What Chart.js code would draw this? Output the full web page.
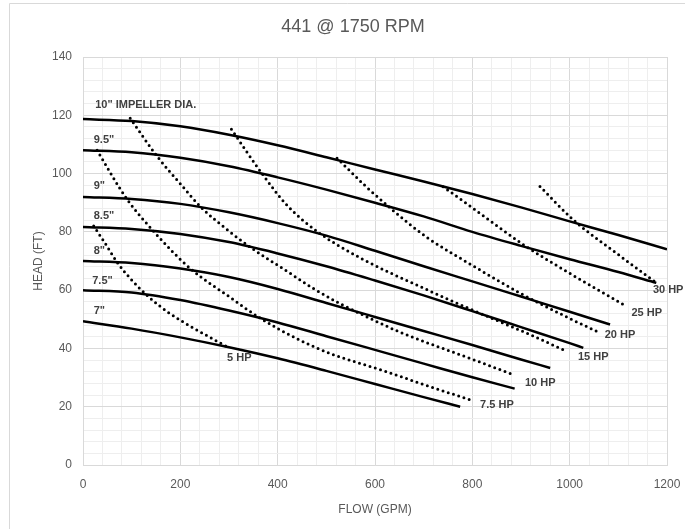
<!DOCTYPE html>
<html>
<head>
<meta charset="utf-8">
<title>441 @ 1750 RPM</title>
<script src="https://cdn.jsdelivr.net/npm/chart.js@4.4.0/dist/chart.umd.min.js"></script>
<style>
    html, body { margin: 0; padding: 0; background: #fff; }
    #wrap { position: relative; width: 685px; height: 529px; }
</style>
</head>
<body>
<div id="wrap"><canvas id="pump-chart" width="685" height="529"></canvas></div>
<script>
// impeller curves (solid): flow in GPM, head in FT
const flow10 = [0, 100, 200, 300, 400, 500, 600, 700, 800, 900, 1000, 1100, 1200];
const head10 = [118.7, 118, 116.2, 113.3, 109.7, 105.6, 101.4, 97.3, 93, 88.4, 83.6, 78.9, 74];
const flow95 = [0, 100, 200, 300, 400, 500, 600, 700, 800, 900, 1000, 1100, 1178];
const head95 = [108, 107.3, 105.4, 102.5, 98.7, 94.5, 90, 85.3, 80, 75.2, 70.6, 66.2, 62.5];
const flow9 = [0, 100, 200, 300, 400, 500, 600, 700, 800, 900, 1000, 1083];
const head9 = [92, 91.3, 89.6, 86.7, 83, 78.7, 73.5, 68.2, 63, 57.8, 52.6, 48.2];
const flow85 = [0, 100, 200, 300, 400, 500, 600, 700, 800, 900, 1000, 1028];
const head85 = [81.7, 81, 79.3, 76.5, 72.6, 68.2, 63.3, 58.2, 52.8, 47.3, 41.8, 40.2];
const flow8 = [0, 100, 200, 300, 400, 500, 600, 700, 800, 900, 960];
const head8 = [70, 69.3, 67.4, 64.5, 60.4, 55.6, 50.8, 46, 41.2, 36.2, 33.3];
const flow75 = [0, 100, 200, 300, 400, 500, 600, 700, 800, 887];
const head75 = [60, 59.2, 56.6, 53, 48.9, 44.2, 39.5, 34.8, 30.1, 26.2];
const flow7 = [0, 100, 200, 300, 400, 500, 600, 700, 775];
const head7 = [49.3, 46.8, 43.8, 40.4, 36.6, 32.3, 27.8, 23.3, 20];

// horsepower curves (dotted)
const flow5hp = [22, 45, 70, 100, 135, 175, 227, 296];
const head5hp = [82, 76.2, 69.6, 63.5, 57.7, 52.4, 47, 40.6];
const flow75hp = [29, 60, 90, 145, 220, 300, 364, 446, 514, 617, 700, 795];
const head75hp = [108, 99.2, 91.3, 80.2, 67.5, 57.8, 50.4, 42.8, 37.9, 32.4, 27.6, 22.4];
const flow10hp = [97, 152, 200, 241, 302, 345, 420, 473, 528, 590, 651, 700, 800, 887];
const head10hp = [119, 106, 96.5, 88.7, 80, 74.6, 66.4, 60.6, 55.4, 50.3, 45.6, 42.4, 36.3, 30.8];
const flow15hp = [305, 367, 420, 484, 576, 692, 800, 919, 994];
const head15hp = [115.2, 100.2, 89, 79.8, 70.5, 61.3, 53.2, 44.7, 39];
const flow20hp = [522, 580, 634, 706, 800, 898, 1000, 1055];
const head20hp = [105.3, 95.8, 87.8, 78.2, 68.5, 59, 50.3, 45.9];
const flow25hp = [740, 800, 905, 1000, 1117];
const head25hp = [95.5, 88.3, 75.6, 65.8, 54.4];
const flow30hp = [939, 1007, 1100, 1178];
const head30hp = [95.6, 84.2, 72.2, 62.5];

// text on the curves (flow/head where each label starts)
const impellerLabels = ['10" IMPELLER DIA.', '9.5"', '9"', '8.5"', '8"', '7.5"', '7"'];
const impellerLabelFlow = [25, 22, 22, 22, 22, 19, 22];
const impellerLabelHead = [123.6, 111.6, 95.6, 85.6, 73.3, 63, 52.7];
const hpLabels = ['5 HP', '7.5 HP', '10 HP', '15 HP', '20 HP', '25 HP', '30 HP'];
const hpLabelFlow = [296, 816, 908, 1017, 1072, 1127, 1171];
const hpLabelHead = [36.7, 20.7, 28.2, 37.1, 44.7, 52.2, 59.9];

const chartTitle = '441 @ 1750 RPM';

const impellerCurves = [[flow10, head10], [flow95, head95], [flow9, head9], [flow85, head85],
    [flow8, head8], [flow75, head75], [flow7, head7]];
const hpCurves = [[flow5hp, head5hp], [flow75hp, head75hp], [flow10hp, head10hp], [flow15hp, head15hp],
    [flow20hp, head20hp], [flow25hp, head25hp], [flow30hp, head30hp]];

const FONT = '"Liberation Sans", Arial, sans-serif';
const GREY = '#595959';

function toPoints(xs, ys) {
    return xs.map((x, i) => ({ x: x, y: ys[i] }));
}

const datasets = [];
impellerCurves.forEach(([xs, ys], i) => {
    datasets.push({
        label: impellerLabels[i],
        data: toPoints(xs, ys),
        showLine: true,
        borderColor: '#000',
        borderWidth: 2.5,
        pointRadius: 0,
        cubicInterpolationMode: 'monotone'
    });
});
hpCurves.forEach(([xs, ys], i) => {
    datasets.push({
        label: hpLabels[i],
        data: toPoints(xs, ys),
        showLine: true,
        borderColor: '#000',
        borderWidth: 3,
        borderDash: [0, 5.5],
        borderCapStyle: 'round',
        pointRadius: 0,
        cubicInterpolationMode: 'monotone'
    });
});

// chart frame + title (centred on the whole Excel chart object, which runs past the right edge)
// and the impeller / HP captions
const curveLabels = {
    id: 'curveLabels',
    beforeDraw(chart) {
        const ctx = chart.ctx;
        ctx.save();
        ctx.strokeStyle = '#d9d9d9';
        ctx.lineWidth = 1;
        ctx.beginPath();
        ctx.moveTo(9.5, 540);
        ctx.lineTo(9.5, 3.5);
        ctx.lineTo(685, 3.5);
        ctx.stroke();

        ctx.font = '18px ' + FONT;
        ctx.fillStyle = GREY;
        ctx.textAlign = 'center';
        ctx.textBaseline = 'middle';
        ctx.fillText(chartTitle, 353, 27);
        ctx.restore();
    },
    afterDatasetsDraw(chart) {
        const { ctx, scales: { x, y } } = chart;
        ctx.save();
        ctx.font = 'bold 11px ' + FONT;
        ctx.fillStyle = '#404040';
        ctx.textAlign = 'left';
        ctx.textBaseline = 'middle';
        impellerLabels.forEach((t, i) => {
            ctx.fillText(t, x.getPixelForValue(impellerLabelFlow[i]), y.getPixelForValue(impellerLabelHead[i]));
        });
        hpLabels.forEach((t, i) => {
            ctx.fillText(t, x.getPixelForValue(hpLabelFlow[i]), y.getPixelForValue(hpLabelHead[i]));
        });
        ctx.restore();
    }
};

new Chart(document.getElementById('pump-chart'), {
    type: 'scatter',
    data: { datasets: datasets },
    plugins: [curveLabels],
    options: {
        responsive: false,
        animation: false,
        devicePixelRatio: 1,
        layout: { padding: { left: 10, right: 18, top: 57, bottom: 5 } },
        plugins: {
            legend: { display: false },
            tooltip: { enabled: false },
            title: { display: false }
        },
        scales: {
            x: {
                type: 'linear',
                min: 0,
                max: 1200,
                afterFit: s => { s.height = 59; s.paddingLeft = 0; s.paddingRight = 0; },
                border: { color: '#d9d9d9' },
                grid: {
                    drawTicks: false,
                    color: c => (c.tick && c.tick.value % 200 === 0) ? '#d9d9d9' : '#eeeeee'
                },
                ticks: {
                    stepSize: 40,
                    maxTicksLimit: 100,
                    autoSkip: false,
                    maxRotation: 0,
                    padding: 12,
                    color: GREY,
                    font: { family: FONT, size: 12 },
                    callback: v => v % 200 === 0 ? v : ''
                },
                title: {
                    display: true,
                    text: 'FLOW (GPM)',
                    color: GREY,
                    font: { family: FONT, size: 12 },
                    padding: { top: 4, bottom: 7 }
                }
            },
            y: {
                type: 'linear',
                min: 0,
                max: 140,
                afterFit: s => { s.width = 73; s.paddingTop = 0; s.paddingBottom = 0; },
                border: { color: '#d9d9d9' },
                grid: {
                    drawTicks: false,
                    color: c => (c.tick && c.tick.value % 20 === 0) ? '#d9d9d9' : '#eeeeee'
                },
                ticks: {
                    stepSize: 4,
                    maxTicksLimit: 100,
                    autoSkip: false,
                    padding: 11,
                    color: GREY,
                    font: { family: FONT, size: 12 },
                    callback: v => v % 20 === 0 ? v : ''
                },
                title: {
                    display: true,
                    text: 'HEAD (FT)',
                    color: GREY,
                    font: { family: FONT, size: 12 },
                    padding: { top: 21, bottom: 4 }
                }
            }
        }
    }
});
</script>
</body>
</html>
